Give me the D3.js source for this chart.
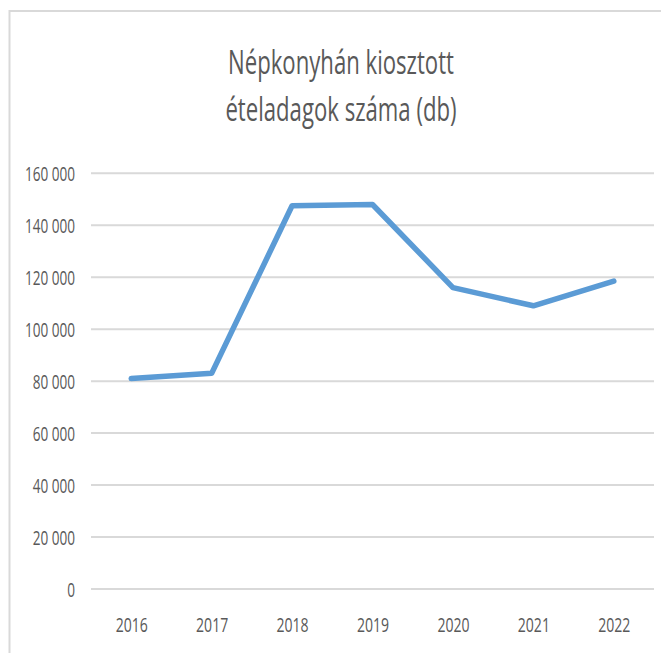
<!DOCTYPE html>
<html>
<head>
<meta charset="utf-8">
<script src="https://cdn.jsdelivr.net/npm/d3@7"></script>
<style>
  html, body { margin: 0; padding: 0; background: #fff; }
  svg { display: block; }
  text { font-family: "Open Sans", "DejaVu Sans Condensed", sans-serif; fill: #595959; }
</style>
</head>
<body>
<svg id="chart" width="661" height="653"></svg>
<script>
const years = ["2016", "2017", "2018", "2019", "2020", "2021", "2022"];
const portions = [81000, 83000, 147500, 148000, 116000, 109000, 118500];
const yTicks = [0, 20000, 40000, 60000, 80000, 100000, 120000, 140000, 160000];
const titleLines = ["Népkonyhán kiosztott", "ételadagok száma (db)"];

const sx = 0.78, sy = 1.14;
const svg = d3.select("#chart");

// chart area border (right/bottom edges fall outside the view)
svg.append("rect")
  .attr("x", 9.5).attr("y", 11)
  .attr("width", 680).attr("height", 700)
  .attr("fill", "#fff")
  .attr("stroke", "#d9d9d9").attr("stroke-width", 2);

const plot = { left: 91, right: 654, top: 173.3, bottom: 589 };

const x = d3.scalePoint().domain(years).range([plot.left, plot.right]).padding(0.5);
const y = d3.scaleLinear().domain([0, 160000]).range([plot.bottom, plot.top]);

const fmt = v => d3.format(",")(v).replace(/,/g, " ");

// gridlines
svg.append("g")
  .selectAll("line")
  .data(yTicks)
  .join("line")
  .attr("x1", plot.left).attr("x2", plot.right)
  .attr("y1", d => y(d)).attr("y2", d => y(d))
  .attr("stroke", "#d9d9d9").attr("stroke-width", 2);

// y axis labels
const yAxis = d3.axisLeft(y).tickValues(yTicks).tickFormat(fmt).tickSize(0).tickPadding(15);
const gy = svg.append("g").attr("transform", `translate(${plot.left},0)`).call(yAxis);
gy.select(".domain").remove();
gy.selectAll("text")
  .attr("font-size", 17.4)
  .attr("x", -16 / sx)
  .attr("dy", "0.36em")
  .attr("transform", `scale(${sx},${sy})`);

// x axis labels
const xAxis = d3.axisBottom(x).tickSize(0).tickPadding(0);
const gx = svg.append("g").attr("transform", `translate(0,${plot.bottom})`).call(xAxis);
gx.select(".domain").remove();
gx.selectAll("text")
  .attr("font-size", 18)
  .attr("y", 37.5)
  .attr("dy", 0)
  .attr("transform", `scale(${sx},${sy})`);

// line
const line = d3.line().x((d, i) => x(years[i])).y(d => y(d));
svg.append("path")
  .datum(portions)
  .attr("d", line)
  .attr("fill", "none")
  .attr("stroke", "#5b9bd5")
  .attr("stroke-width", 5.5)
  .attr("stroke-linejoin", "round")
  .attr("stroke-linecap", "round");

// title
const baselines = [73.5, 120.5];
svg.append("g")
  .selectAll("text")
  .data(titleLines)
  .join("text")
  .attr("transform", (d, i) => `translate(341,${baselines[i]}) scale(${sx},${sy})`)
  .attr("text-anchor", "middle")
  .attr("font-size", 28.4)
  .text(d => d);
</script>
</body>
</html>
